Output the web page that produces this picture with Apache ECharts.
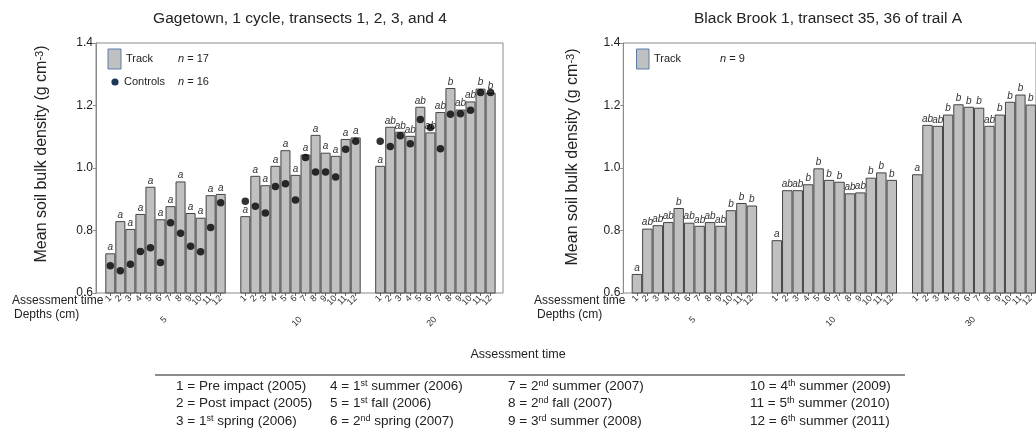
<!DOCTYPE html>
<html><head><meta charset="utf-8">
<script src="https://cdn.jsdelivr.net/npm/echarts@6/dist/echarts.min.js"></script>
<style>html,body{margin:0;padding:0;background:#fff}#c{width:1036px;height:435px}</style>
</head><body><div id="c"></div>
<script>
// ---------- data ----------
const timeLabels = ['1','2','3','4','5','6','7','8','9','10','11','12'];
const yTicks = { min: 0.6, max: 1.4, interval: 0.2 };

const gageDepths = ['5', '10', '20'];
const gageTrack5  = [0.727,0.830,0.805,0.853,0.940,0.836,0.878,0.957,0.856,0.841,0.913,0.917];
const gageTrack10 = [0.846,0.975,0.945,1.007,1.057,0.978,1.043,1.106,1.049,1.039,1.093,1.098];
const gageTrack20 = [1.007,1.132,1.116,1.103,1.196,1.114,1.179,1.256,1.187,1.213,1.254,1.241];
const gageControl5  = [0.687,0.671,0.692,0.733,0.745,0.698,0.825,0.791,0.750,0.732,0.810,0.889];
const gageControl10 = [0.894,0.878,0.856,0.941,0.950,0.898,1.034,0.987,0.987,0.971,1.060,1.086];
const gageControl20 = [1.086,1.069,1.103,1.078,1.155,1.130,1.062,1.172,1.174,1.185,1.242,1.242];
const gageLetters5  = ['a','a','a','a','a','a','a','a','a','a','a','a'];
const gageLetters10 = ['a','a','a','a','a','a','a','a','a','a','a','a'];
const gageLetters20 = ['a','ab','ab','ab','ab','ab','ab','b','ab','ab','b','b'];

const bbDepths = ['5', '10', '30'];
const bbTrack5  = [0.661,0.806,0.817,0.827,0.872,0.825,0.815,0.827,0.815,0.865,0.888,0.880];
const bbTrack10 = [0.769,0.929,0.929,0.948,0.999,0.962,0.956,0.919,0.922,0.969,0.986,0.962];
const bbTrack30 = [0.980,1.138,1.135,1.171,1.204,1.196,1.193,1.135,1.171,1.212,1.235,1.203];
const bbLetters5  = ['a','ab','ab','ab','b','ab','ab','ab','ab','b','b','b'];
const bbLetters10 = ['a','ab','ab','b','b','b','b','ab','ab','b','b','b'];
const bbLetters30 = ['a','ab','ab','b','b','b','b','ab','b','b','b','b'];

const titles = ['Gagetown, 1 cycle, transects 1, 2, 3, and 4', 'Black Brook 1, transect 35, 36 of trail A'];
const yName = 'Mean soil bulk density (g cm{s|-3})';
const keyHeader = 'Assessment time';
const keyColumns = [
  ['1 = Pre impact (2005)', '2 = Post impact (2005)', '3 = 1{s|st} spring (2006)'],
  ['4 = 1{s|st} summer (2006)', '5 = 1{s|st} fall (2006)', '6 = 2{s|nd} spring (2007)'],
  ['7 = 2{s|nd} summer (2007)', '8 = 2{s|nd} fall (2007)', '9 = 3{s|rd} summer (2008)'],
  ['10 = 4{s|th} summer (2009)', '11 = 5{s|th} summer (2010)', '12 = 6{s|th} summer (2011)']
];

// ---------- layout ----------
const FONT = 'Liberation Sans, Arial, Helvetica, sans-serif';
const TOP = 43, H = 250;
const panels = [
  { frameLeft: 96, frameWidth: 407, groupLefts: [105.3, 240.3, 375.2], groupWidth: 120.4,
    depths: gageDepths, track: [gageTrack5, gageTrack10, gageTrack20],
    controls: [gageControl5, gageControl10, gageControl20],
    letters: [gageLetters5, gageLetters10, gageLetters20] },
  { frameLeft: 623.3, frameWidth: 425, groupLefts: [631.7, 771.6, 912.0], groupWidth: 125.4,
    depths: bbDepths, track: [bbTrack5, bbTrack10, bbTrack30],
    controls: null,
    letters: [bbLetters5, bbLetters10, bbLetters30] }
];

const grid = [], xAxis = [], yAxis = [], series = [];
panels.forEach(p => {
  const fi = grid.length;
  grid.push({ left: p.frameLeft, top: TOP, width: p.frameWidth, height: H, show: true,
    borderColor: '#8a8a8a', borderWidth: 1, backgroundColor: 'transparent' });
  xAxis.push({ gridIndex: fi, type: 'value', show: false });
  yAxis.push({ gridIndex: fi, type: 'value', min: yTicks.min, max: yTicks.max, interval: yTicks.interval,
    axisLine: { show: true, lineStyle: { color: '#8a8a8a', width: 1 } },
    axisTick: { show: true, length: 3, lineStyle: { color: '#8a8a8a' } },
    splitLine: { show: false },
    axisLabel: { fontFamily: FONT, fontSize: 12, color: '#222', margin: 3,
      formatter: v => v.toFixed(1) } });
  p.groupLefts.forEach((gl, g) => {
    const gi = grid.length;
    grid.push({ left: gl, top: TOP, width: p.groupWidth, height: H });
    xAxis.push({ gridIndex: gi, type: 'category', data: timeLabels,
      axisLine: { show: false },
      axisTick: { show: true, alignWithLabel: true, length: 3, lineStyle: { color: '#666' } },
      axisLabel: { interval: 0, rotate: 45, fontFamily: FONT, fontSize: 9, color: '#333', margin: 4 },
      name: p.depths[g], nameLocation: 'middle', nameGap: 24, nameRotate: 45,
      nameTextStyle: { fontFamily: FONT, fontSize: 9, color: '#333' } });
    yAxis.push({ gridIndex: gi, type: 'value', min: yTicks.min, max: yTicks.max, show: false });
    const letters = p.letters[g];
    series.push({ type: 'bar', xAxisIndex: gi, yAxisIndex: gi, data: p.track[g],
      barCategoryGap: '0%', z: 2,
      itemStyle: { color: '#c0c0c0', borderColor: '#444', borderWidth: 1 },
      label: { show: true, position: 'top', distance: 1, fontFamily: FONT, fontSize: 10,
        fontStyle: 'italic', color: '#333', formatter: prm => letters[prm.dataIndex] } });
    if (p.controls) {
      series.push({ type: 'scatter', xAxisIndex: gi, yAxisIndex: gi, data: p.controls[g],
        symbol: 'circle', symbolSize: 7.5, z: 5, itemStyle: { color: '#000' } });
    }
  });
});

const txt = (x, y, text, opts = {}) => Object.assign({ type: 'text', x, y, silent: true,
  style: Object.assign({ text, fill: '#222', font: '12px ' + FONT, align: 'left', verticalAlign: 'middle' }, opts.style || {}) },
  opts.el || {});

const supRich = { s: { fontSize: 9, fontFamily: FONT, fill: '#222', verticalAlign: 'top', lineHeight: 11 } };
const nameRich = { s: { fontSize: 11, fontFamily: FONT, fill: '#222', verticalAlign: 'top', lineHeight: 13 } };
const italicRich = { i: { fontStyle: 'italic', fontSize: 11, fontFamily: FONT, fill: '#222' } };

const graphic = [
  txt(300, 19, titles[0], { style: { font: '15.5px ' + FONT, align: 'center' } }),
  txt(828, 19, titles[1], { style: { font: '15.5px ' + FONT, align: 'center' } }),
  txt(42, 154, yName, { el: { rotation: Math.PI / 2 }, style: { font: '16px ' + FONT, align: 'center', rich: nameRich } }),
  txt(573, 157, yName, { el: { rotation: Math.PI / 2 }, style: { font: '16px ' + FONT, align: 'center', rich: nameRich } }),
  txt(12, 301, 'Assessment time', {}),
  txt(14, 315, 'Depths (cm)', {}),
  txt(534, 301, 'Assessment time', {}),
  txt(537, 315, 'Depths (cm)', {}),
  // legends
  { type: 'rect', shape: { x: 108, y: 49, width: 13, height: 20 }, style: { fill: '#c0c0c0', stroke: '#5b7ea8', lineWidth: 1 } },
  txt(126, 59, 'Track', { style: { font: '11px ' + FONT } }),
  txt(178, 59, '{i|n} = 17', { style: { font: '11px ' + FONT, rich: italicRich } }),
  { type: 'circle', shape: { cx: 115, cy: 82, r: 3.6 }, style: { fill: '#1d3556' } },
  txt(124, 82, 'Controls', { style: { font: '11px ' + FONT } }),
  txt(178, 82, '{i|n} = 16', { style: { font: '11px ' + FONT, rich: italicRich } }),
  { type: 'rect', shape: { x: 636.5, y: 49, width: 12.5, height: 20 }, style: { fill: '#c0c0c0', stroke: '#5b7ea8', lineWidth: 1 } },
  txt(654, 59, 'Track', { style: { font: '11px ' + FONT } }),
  txt(720, 59, '{i|n} = 9', { style: { font: '11px ' + FONT, rich: italicRich } }),
  // key table
  txt(518, 355, keyHeader, { style: { font: '12.5px ' + FONT, align: 'center' } }),
  { type: 'line', shape: { x1: 155, y1: 375, x2: 905, y2: 375 }, style: { stroke: '#666', lineWidth: 1.5 } }
];
const colX = [176, 330, 508, 750];
const rowY = [386, 403.5, 421];
keyColumns.forEach((col, ci) => col.forEach((t, ri) => {
  graphic.push(txt(colX[ci], rowY[ri], t, { style: { font: '13.5px ' + FONT, rich: supRich } }));
}));

const chart = echarts.init(document.getElementById('c'), null, { renderer: 'canvas' });
chart.setOption({ animation: false, backgroundColor: '#fff', grid, xAxis, yAxis, series, graphic });
</script></body></html>
